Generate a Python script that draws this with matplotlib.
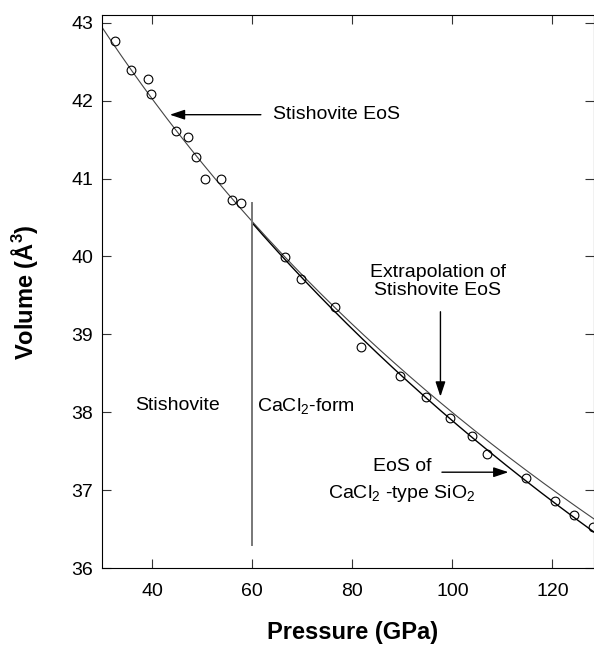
import numpy as np
import matplotlib
matplotlib.use("Agg")
import matplotlib.pyplot as plt

plt.rcParams['font.family'] = ['Liberation Sans', 'DejaVu Sans']
plt.rcParams['mathtext.default'] = 'regular'

pressure = [32.6, 35.7, 39.1, 39.8, 44.7, 47.2, 48.7, 50.5, 53.8, 56.0, 57.7,
            66.5, 69.7, 76.5, 81.8, 89.5, 94.8, 99.5, 103.9, 107.0, 114.8,
            120.5, 124.3, 128.1]
volume = [42.77, 42.40, 42.28, 42.09, 41.61, 41.54, 41.28, 41.00, 40.99, 40.72, 40.69,
          39.99, 39.71, 39.35, 38.84, 38.47, 38.19, 37.93, 37.70, 37.46, 37.16,
          36.86, 36.68, 36.52]

# third-order Birch-Murnaghan parameters: V0 (A^3), K0 (GPa), K'
stish_eos = (46.5, 315.0, 4.45)
cacl2_eos = (46.5, 324.0, 4.0)

transition_p = 60.0


def birch_murnaghan(v, v0, k0, kp):
	f = (v0 / v) ** (2.0 / 3.0)
	return 1.5 * k0 * (f ** 3.5 - f ** 2.5) * (1 + 0.75 * (kp - 4) * (f - 1))


def eos_curve(params, p_min, p_max):
	v = np.linspace(35.5, 43.5, 600)
	p = birch_murnaghan(v, *params)
	keep = (p >= p_min) & (p <= p_max)
	return p[keep], v[keep]


fig = plt.figure(figsize=(5.94, 6.45), dpi=100)
ax = fig.add_axes([102.3 / 594, 1 - 568 / 645, (593.5 - 102.3) / 594, (568 - 15) / 645])

p_st, v_st = eos_curve(stish_eos, 25, 135)
p_ca, v_ca = eos_curve(cacl2_eos, transition_p, 135)
ax.plot(p_st, v_st, color='#444444', lw=0.8)
ax.plot(p_ca, v_ca, color='black', lw=1.0)

ax.plot(pressure, volume, 'o', mfc='none', mec='black', ms=6.3, mew=0.8)

ax.plot([transition_p, transition_p], [36.29, 40.69], color='#777777', lw=1.4)

ax.set_xlim(30, 128.2)
ax.set_ylim(36, 43.1)
ax.set_xticks([40, 60, 80, 100, 120])
ax.set_yticks(range(36, 44))
ax.tick_params(direction='in', length=6.5, width=0.8, labelsize=14,
               top=True, right=True, color='#333333')
ax.tick_params(axis='x', pad=11)
ax.tick_params(axis='y', pad=6.5)
for s in ax.spines.values():
	s.set_linewidth(0.8)

arrow = dict(arrowstyle='-|>,head_length=0.9,head_width=0.3', color='black',
             lw=1.0, shrinkA=0, shrinkB=0)

ax.text(64.1, 41.82, 'Stishovite EoS', fontsize=14, va='center', ha='left')
ax.annotate('', xy=(43.5, 41.82), xytext=(61.7, 41.82), arrowprops=arrow)

ax.text(36.5, 38.08, 'Stishovite', fontsize=14, va='center', ha='left')
ax.text(61.0, 38.08, 'CaCl$_2$-form', fontsize=14, va='center', ha='left')

ax.text(97.1, 39.68, 'Extrapolation of\nStishovite EoS', fontsize=14,
        va='center', ha='center', multialignment='center', linespacing=1.05)
ax.annotate('', xy=(97.6, 38.20), xytext=(97.6, 39.29), arrowprops=arrow)

ax.text(89.9, 37.30, 'EoS of', fontsize=14, va='center', ha='center')
ax.text(89.9, 36.96, 'CaCl$_2$ -type SiO$_2$', fontsize=14, va='center', ha='center')
ax.annotate('', xy=(111.2, 37.23), xytext=(97.9, 37.23), arrowprops=arrow)

fig.text(353 / 594, 1 - 632 / 645, 'Pressure (GPa)', fontsize=17, fontweight='bold',
         ha='center', va='center')
fig.text(24 / 594, 1 - 292 / 645, 'Volume (Å$^3$)', fontsize=17, fontweight='bold',
         ha='center', va='center', rotation=90)

fig.savefig('out.png', dpi=100)
